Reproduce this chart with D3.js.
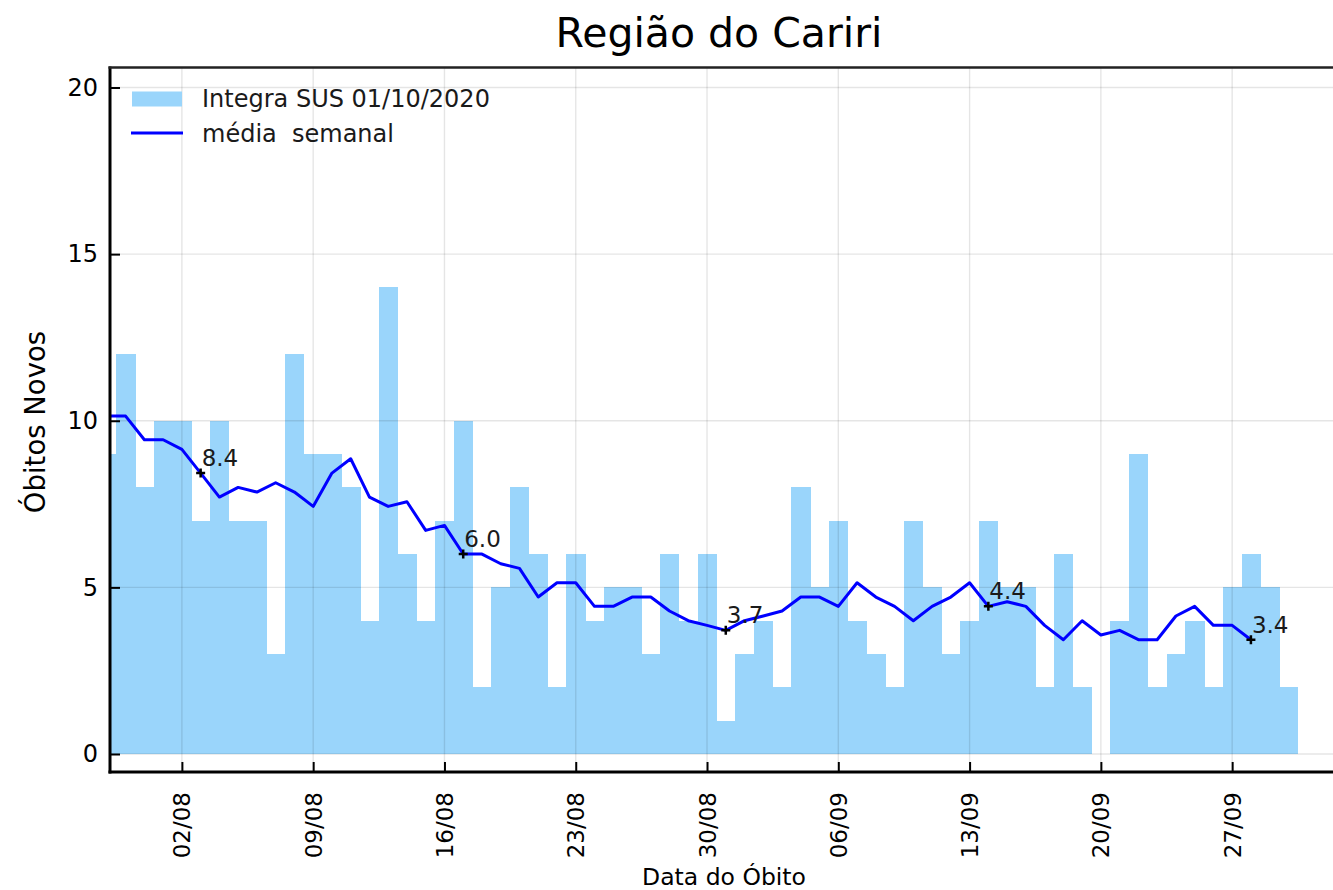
<!DOCTYPE html>
<html>
<head>
<meta charset="utf-8">
<script src="https://cdn.jsdelivr.net/npm/d3@7"></script>
<style>
  body { margin: 0; background: #fff; }
  svg { display: block; font-family: 'DejaVu Sans', sans-serif; }
</style>
</head>
<body>
<script>
const width = 1333;
const height = 890;

// daily deaths, 29/07 .. 30/09
const firstDay = new Date(2020, 6, 29);
const deaths = [9, 12, 8, 10, 10, 7, 10, 7, 7, 3, 12, 9, 9, 8, 4, 14, 6, 4, 7, 10,
    2, 5, 8, 6, 2, 6, 4, 5, 5, 3, 6, 4, 6, 1, 3, 4, 2, 8, 5, 7,
    4, 3, 2, 7, 5, 3, 4, 7, 5, 5, 2, 6, 2, 0, 4, 9, 2, 3, 4, 2,
    5, 6, 5, 2];
// weekly mean, 29/07 .. 28/09
const weekly = [10.14, 10.14, 9.43, 9.43, 9.14, 8.43, 7.71, 8.0, 7.86, 8.14,
    7.86, 7.43, 8.43, 8.86, 7.71, 7.43, 7.57, 6.71, 6.86, 6.0,
    6.0, 5.71, 5.57, 4.71, 5.14, 5.14, 4.43, 4.43, 4.71, 4.71,
    4.29, 4.0, 3.86, 3.71, 4.0, 4.14, 4.29, 4.71, 4.71, 4.43,
    5.14, 4.71, 4.43, 4.0, 4.43, 4.71, 5.14, 4.43, 4.57, 4.43,
    3.86, 3.43, 4.0, 3.57, 3.71, 3.43, 3.43, 4.14, 4.43, 3.86,
    3.86, 3.43];
const markIndex = [5, 19, 33, 47, 61];
const markLabels = ['8.4', '6.0', '3.7', '4.4', '3.4'];
const xTicks = ['02/08', '09/08', '16/08', '23/08', '30/08', '06/09', '13/09', '20/09', '27/09'];
const yTicks = [0, 5, 10, 15, 20];

const days = d3.timeDay.range(firstDay, d3.timeDay.offset(firstDay, deaths.length));
const bars = days.map((d, i) => ({ date: d, value: deaths[i] }));
const line = weekly.map((v, i) => ({ date: days[i], value: v }));
const parseTick = d3.timeParse('%d/%m/%Y');
const tickDates = xTicks.map(t => parseTick(t + '/2020'));

const pLeft = 110, pRight = 1340, pTop = 67.5, pBottom = 772;

const aug2 = new Date(2020, 7, 2);
const x = d3.scaleTime()
    .domain([d3.timeHour.offset(aug2, -91.6), d3.timeHour.offset(aug2, 1482.6)])
    .range([pLeft, pRight]);
const y = d3.scaleLinear()
    .domain([-0.54, 20.6])
    .range([pBottom, pTop]);

const svg = d3.select('body')
    .append('svg')
    .attr('width', width)
    .attr('height', height);

svg.append('defs').append('clipPath')
    .attr('id', 'plot-clip')
    .append('rect')
    .attr('x', pLeft).attr('y', pTop)
    .attr('width', pRight - pLeft).attr('height', pBottom - pTop);

const plot = svg.append('g').attr('clip-path', 'url(#plot-clip)');

const halfDay = d => d3.timeHour.offset(d, -12);
const barW = x(d3.timeDay.offset(aug2, 1)) - x(aug2);

plot.selectAll('rect.bar')
    .data(bars)
    .enter()
    .append('rect')
        .attr('class', 'bar')
        .attr('x', d => x(halfDay(d.date)))
        .attr('y', d => y(d.value))
        .attr('width', barW + 0.6)
        .attr('height', d => y(0) - y(d.value))
        .attr('fill', '#9ad5fb')
        .attr('shape-rendering', 'crispEdges');

// grid on top of bars
plot.selectAll('line.vgrid')
    .data(tickDates)
    .enter()
    .append('line')
        .attr('x1', d => x(d)).attr('x2', d => x(d))
        .attr('y1', pTop).attr('y2', pBottom)
        .attr('stroke', '#000')
        .attr('stroke-opacity', 0.1)
        .attr('stroke-width', 1.4);

plot.selectAll('line.hgrid')
    .data(yTicks)
    .enter()
    .append('line')
        .attr('x1', pLeft).attr('x2', pRight)
        .attr('y1', d => y(d)).attr('y2', d => y(d))
        .attr('stroke', '#000')
        .attr('stroke-opacity', 0.1)
        .attr('stroke-width', 1.4);

plot.append('path')
    .datum(line)
    .attr('fill', 'none')
    .attr('stroke', '#0000ff')
    .attr('stroke-width', 3)
    .attr('stroke-linejoin', 'round')
    .attr('d', d3.line().x(d => x(d.date)).y(d => y(d.value)));

const marks = markIndex.map((m, i) => ({ date: days[m], value: weekly[m], label: markLabels[i] }));

const markG = svg.append('g')
    .selectAll('g')
    .data(marks)
    .enter()
    .append('g')
        .attr('transform', d => `translate(${x(d.date)},${y(d.value)})`);

markG.append('path')
    .attr('d', 'M-4.5,0H4.5M0,-4.5V4.5')
    .attr('stroke', '#000')
    .attr('stroke-width', 2.5);

markG.append('text')
    .attr('x', 1)
    .attr('y', -7)
    .attr('font-size', 23)
    .attr('fill', '#1a1a1a')
    .text(d => d.label);

// axes
const xAxis = svg.append('g')
    .attr('transform', `translate(0,${pBottom})`)
    .call(d3.axisBottom(x).tickValues(tickDates).tickFormat(d3.timeFormat('%d/%m')).tickSizeInner(-10).tickSizeOuter(0));
xAxis.select('.domain').remove();
xAxis.selectAll('.tick line').attr('stroke', '#000').attr('stroke-width', 2);
xAxis.selectAll('.tick text')
    .attr('font-size', 23)
    .attr('font-family', 'DejaVu Sans')
    .attr('fill', '#000')
    .attr('transform', 'rotate(-90)')
    .attr('text-anchor', 'end')
    .attr('x', -20)
    .attr('y', 0)
    .attr('dy', '0.35em');

const yAxis = svg.append('g')
    .attr('transform', `translate(${pLeft},0)`)
    .call(d3.axisLeft(y).tickValues(yTicks).tickSizeInner(-10).tickSizeOuter(0).tickPadding(12));
yAxis.select('.domain').remove();
yAxis.selectAll('.tick line').attr('stroke', '#000').attr('stroke-width', 2);
yAxis.selectAll('.tick text')
    .attr('font-size', 24)
    .attr('font-family', 'DejaVu Sans')
    .attr('fill', '#000');

// frame
svg.append('line')
    .attr('x1', pLeft).attr('x2', pLeft).attr('y1', pTop - 1).attr('y2', pBottom + 1.5)
    .attr('stroke', '#000').attr('stroke-width', 3);
svg.append('line')
    .attr('x1', pLeft - 1.5).attr('x2', width).attr('y1', pBottom).attr('y2', pBottom)
    .attr('stroke', '#000').attr('stroke-width', 3);
svg.append('line')
    .attr('x1', pLeft - 1.5).attr('x2', width).attr('y1', pTop).attr('y2', pTop)
    .attr('stroke', '#222').attr('stroke-width', 2.5);

// legend
const legend = svg.append('g').attr('transform', 'translate(132,0)');
legend.append('rect')
    .attr('x', 0).attr('y', 91.5)
    .attr('width', 50).attr('height', 15)
    .attr('fill', '#9ad5fb');
legend.append('line')
    .attr('x1', -1).attr('x2', 51).attr('y1', 133).attr('y2', 133)
    .attr('stroke', '#0000ff').attr('stroke-width', 3);
legend.append('text')
    .attr('x', 70).attr('y', 107)
    .attr('font-size', 24)
    .attr('fill', '#1a1a1a')
    .text('Integra SUS 01/10/2020');
legend.append('text')
    .attr('x', 70).attr('y', 142)
    .attr('font-size', 24)
    .attr('fill', '#1a1a1a')
    .style('white-space', 'pre')
    .text('média  semanal');

svg.append('text')
    .attr('x', 719)
    .attr('y', 47)
    .attr('text-anchor', 'middle')
    .attr('font-size', 41)
    .text('Região do Cariri');

svg.append('text')
    .attr('x', 724)
    .attr('y', 885)
    .attr('text-anchor', 'middle')
    .attr('font-size', 23.5)
    .text('Data do Óbito');

svg.append('text')
    .attr('transform', 'translate(45,422) rotate(-90)')
    .attr('text-anchor', 'middle')
    .attr('font-size', 27.5)
    .text('Óbitos Novos');
</script>
</body>
</html>
